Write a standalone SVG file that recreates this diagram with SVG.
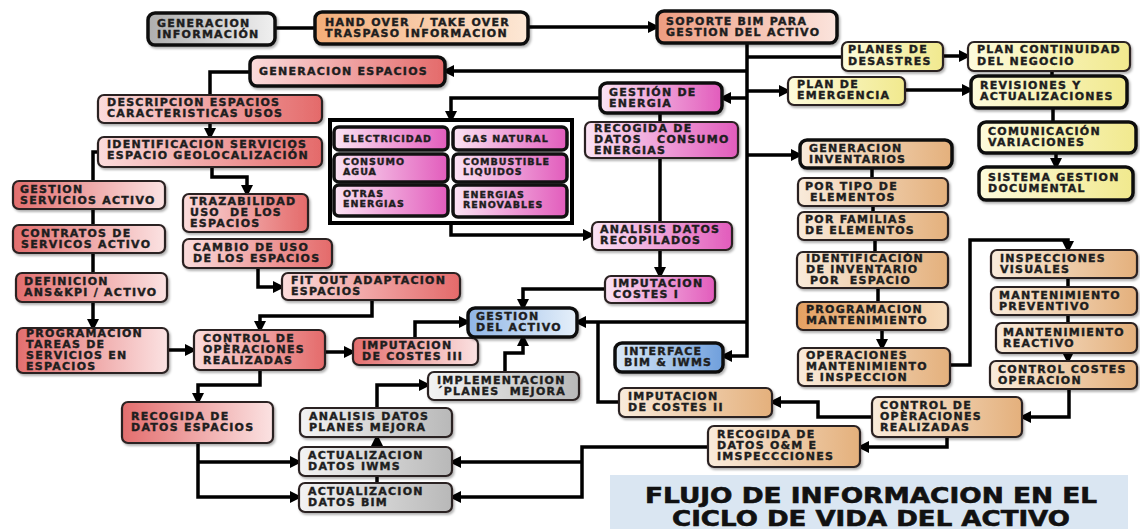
<svg xmlns="http://www.w3.org/2000/svg" width="1140" height="529" viewBox="0 0 1140 529">
<defs>
<style>
.t{font-family:"DejaVu Sans","Liberation Sans",sans-serif;font-weight:bold;font-size:11px;letter-spacing:1.25px;fill:#1e1e1e;stroke:#1e1e1e;stroke-width:0.4}
.s{font-size:9.5px;letter-spacing:1px}
.k{stroke:#111;stroke-width:3.5}
.n{stroke:#2b2020;stroke-width:2.2}
.c path{fill:none;stroke:#000;stroke-width:3.5}
.c path.a{marker-end:url(#ar)}
.box{filter:url(#sh)}
.ttl{font-family:"DejaVu Sans","Liberation Sans",sans-serif;font-weight:bold;font-size:22px;fill:#111;stroke:#111;stroke-width:0.6}
</style>
<marker id="ar" viewBox="0 0 12 12" markerWidth="12" markerHeight="12" refX="9" refY="6" orient="auto" markerUnits="userSpaceOnUse"><path d="M0,0 L12,6 L0,12 z" fill="#000"/></marker>
<filter id="sh" x="-10%" y="-20%" width="130%" height="150%"><feDropShadow dx="1.5" dy="2" stdDeviation="1.2" flood-color="#000" flood-opacity="0.3"/></filter>
<linearGradient id="grayL"><stop offset="0" stop-color="#aeaeae"/><stop offset="1" stop-color="#f0f0f0"/></linearGradient>
<linearGradient id="grayR"><stop offset="0" stop-color="#f3f3f3"/><stop offset="1" stop-color="#b8b8b8"/></linearGradient>
<linearGradient id="peach"><stop offset="0" stop-color="#f3ad78"/><stop offset="1" stop-color="#fde8d6"/></linearGradient>
<linearGradient id="sop"><stop offset="0" stop-color="#ee9c80"/><stop offset="1" stop-color="#fbe4dd"/></linearGradient>
<linearGradient id="redA"><stop offset="0" stop-color="#e36e6e"/><stop offset="1" stop-color="#fbe2e2"/></linearGradient>
<linearGradient id="redB"><stop offset="0" stop-color="#fbdcdc"/><stop offset="1" stop-color="#e46a6a"/></linearGradient>
<linearGradient id="mag"><stop offset="0" stop-color="#fbe4f4"/><stop offset="1" stop-color="#e25cbc"/></linearGradient>
<linearGradient id="yel"><stop offset="0" stop-color="#fdfbdc"/><stop offset="1" stop-color="#f1e98e"/></linearGradient>
<linearGradient id="tan"><stop offset="0" stop-color="#f9ebdb"/><stop offset="1" stop-color="#e4b07c"/></linearGradient>
<linearGradient id="tanO"><stop offset="0" stop-color="#e4a062"/><stop offset="1" stop-color="#f7dcbc"/></linearGradient>
<linearGradient id="blueA"><stop offset="0" stop-color="#8fb5e6"/><stop offset="1" stop-color="#e6f0fa"/></linearGradient>
<linearGradient id="blueB"><stop offset="0" stop-color="#dceaf8"/><stop offset="1" stop-color="#6f9fdc"/></linearGradient>
</defs>
<rect width="1140" height="529" fill="#fff"/>

<g id="connectors" class="c">
<path d="M275,28 H315"/>
<path class="a" d="M528,27 H657"/>
<path class="a" d="M747,43 V356 H723"/>
<path d="M747,57 H842"/>
<path class="a" d="M747,71 H445"/>
<path class="a" d="M747,98 H722"/>
<path class="a" d="M747,91 H788"/>
<path class="a" d="M747,155 H800"/>
<path class="a" d="M747,322 H577"/>
<path class="a" d="M943,56 H968"/>
<path class="a" d="M905,90 H971"/>
<path d="M1052,71 V76"/>
<path d="M1053,108 V122"/>
<path class="a" d="M1056,153 V167"/>
<path d="M250,72 H210 V95"/>
<path class="a" d="M210,123 V137"/>
<path d="M98,152 H93 V181"/>
<path class="a" d="M212,167 V177 H247 V194"/>
<path d="M93,209 V225"/>
<path d="M93,253 V273"/>
<path class="a" d="M93,302 V328"/>
<path class="a" d="M168,350 H194"/>
<path class="a" d="M258,268 V287 H282"/>
<path class="a" d="M372,300 V316 H260 V330"/>
<path class="a" d="M325,352 H353"/>
<path class="a" d="M415,338 V322 H468"/>
<path class="a" d="M260,370 V385 H198 V402"/>
<path class="a" d="M198,443 V497 H299"/>
<path class="a" d="M198,462 H299"/>
<path class="a" d="M377,447 V437"/>
<path d="M377,483 V476"/>
<path class="a" d="M377,408 V385 H428"/>
<path class="a" d="M505,372 V353 H523 V337"/>
<path class="a" d="M605,289 H523 V308"/>
<path class="a" d="M600,98 H451 V120"/>
<path d="M660,113 V122"/>
<path d="M660,158 V222"/>
<path class="a" d="M451,223 V235 H592"/>
<path class="a" d="M660,250 V276"/>
<path d="M619,402 H598 V322"/>
<path class="a" d="M872,417 H818 V402 H772"/>
<path class="a" d="M947,437 V447 H860"/>
<path class="a" d="M708,447 H582 V497 H452"/>
<path class="a" d="M582,462 H452"/>
<path d="M872,168 V178"/>
<path d="M873,206 V212"/>
<path d="M875,240 V252"/>
<path d="M878,288 V302"/>
<path class="a" d="M882,330 V348"/>
<path class="a" d="M950,365 H970 V240 H1068 V250"/>
<path d="M1068,278 V287"/>
<path d="M1068,315 V323"/>
<path class="a" d="M1068,353 V361"/>
<path class="a" d="M1069,389 V417 H1022"/>
</g>

<g id="n-gen-info"><rect class="box k" x="148" y="13" width="127" height="32" rx="7" fill="url(#grayL)"/><text class="t"><tspan x="157" y="27">GENERACION</tspan><tspan x="157" y="38">INFORMACIÓN</tspan></text></g>
<g id="n-handover"><rect class="box k" x="315" y="12" width="213" height="32" rx="7" fill="url(#peach)"/><text class="t"><tspan x="325" y="26">HAND OVER&#160; / TAKE OVER</tspan><tspan x="325" y="37">TRASPASO INFORMACION</tspan></text></g>
<g id="n-soporte"><rect class="box k" x="657" y="11" width="180" height="32" rx="7" fill="url(#sop)"/><text class="t"><tspan x="666" y="25">SOPORTE BIM PARA</tspan><tspan x="666" y="36">GESTION DEL ACTIVO</tspan></text></g>
<g id="n-planes-desastres"><rect class="box n" x="842" y="42" width="101" height="29" rx="6" fill="url(#yel)"/><text class="t"><tspan x="848" y="53">PLANES DE</tspan><tspan x="848" y="65">DESASTRES</tspan></text></g>
<g id="n-plan-continuidad"><rect class="box n" x="968" y="42" width="162" height="29" rx="6" fill="url(#yel)"/><text class="t"><tspan x="977" y="53">PLAN CONTINUIDAD</tspan><tspan x="977" y="65">DEL NEGOCIO</tspan></text></g>
<g id="n-plan-emergencia"><rect class="box n" x="788" y="77" width="117" height="28" rx="6" fill="url(#yel)"/><text class="t"><tspan x="797" y="88">PLAN DE</tspan><tspan x="797" y="99">EMERGENCIA</tspan></text></g>
<g id="n-revisiones"><rect class="box k" x="971" y="76" width="156" height="32" rx="7" fill="url(#yel)"/><text class="t"><tspan x="980" y="89">REVISIONES Y</tspan><tspan x="980" y="100">ACTUALIZACIONES</tspan></text></g>
<g id="n-comunicacion"><rect class="box k" x="979" y="122" width="157" height="31" rx="7" fill="url(#yel)"/><text class="t"><tspan x="988" y="135">COMUNICACIÓN</tspan><tspan x="988" y="146">VARIACIONES</tspan></text></g>
<g id="n-sistema"><rect class="box k" x="979" y="167" width="154" height="33" rx="7" fill="url(#yel)"/><text class="t"><tspan x="988" y="181">SISTEMA GESTION</tspan><tspan x="988" y="192">DOCUMENTAL</tspan></text></g>

<g id="n-gen-espacios"><rect class="box k" x="250" y="57" width="195" height="29" rx="7" fill="url(#redB)"/><text class="t" x="259" y="75">GENERACION ESPACIOS</text></g>
<g id="n-descripcion"><rect class="box n" x="98" y="95" width="224" height="28" rx="6" fill="url(#redB)"/><text class="t"><tspan x="107" y="106">DESCRIPCION ESPACIOS</tspan><tspan x="107" y="117">CARACTERISTICAS USOS</tspan></text></g>
<g id="n-identificacion"><rect class="box n" x="98" y="137" width="224" height="30" rx="6" fill="url(#redB)"/><text class="t"><tspan x="107" y="148">IDENTIFICACION SERVICIOS</tspan><tspan x="107" y="159">ESPACIO GEOLOCALIZACIÓN</tspan></text></g>
<g id="n-gestion-servicios"><rect class="box n" x="13" y="181" width="152" height="28" rx="6" fill="url(#redA)"/><text class="t"><tspan x="20" y="193">GESTION</tspan><tspan x="20" y="204">SERVICIOS ACTIVO</tspan></text></g>
<g id="n-contratos"><rect class="box n" x="13" y="225" width="152" height="28" rx="6" fill="url(#redA)"/><text class="t"><tspan x="21" y="237">CONTRATOS DE</tspan><tspan x="21" y="248">SERVICOS ACTIVO</tspan></text></g>
<g id="n-definicion"><rect class="box n" x="16" y="273" width="151" height="29" rx="6" fill="url(#redA)"/><text class="t"><tspan x="24" y="285">DEFINICION</tspan><tspan x="24" y="296">ANS&amp;KPI / ACTIVO</tspan></text></g>
<g id="n-programacion"><rect class="box n" x="17" y="328" width="151" height="45" rx="6" fill="url(#redA)"/><text class="t"><tspan x="26" y="337">PROGRAMACION</tspan><tspan x="26" y="348">TAREAS DE</tspan><tspan x="26" y="359">SERVICIOS EN</tspan><tspan x="26" y="370">ESPACIOS</tspan></text></g>
<g id="n-trazabilidad"><rect class="box n" x="183" y="194" width="125" height="38" rx="6" fill="url(#redB)"/><text class="t"><tspan x="190" y="205">TRAZABILIDAD</tspan><tspan x="190" y="216">USO&#160; DE LOS</tspan><tspan x="190" y="227">ESPACIOS</tspan></text></g>
<g id="n-cambio"><rect class="box n" x="183" y="239" width="149" height="29" rx="6" fill="url(#redB)"/><text class="t"><tspan x="193" y="251">CAMBIO DE USO</tspan><tspan x="193" y="262">DE LOS ESPACIOS</tspan></text></g>
<g id="n-fitout"><rect class="box n" x="282" y="273" width="178" height="27" rx="6" fill="url(#redB)"/><text class="t"><tspan x="291" y="284">FIT OUT ADAPTACION</tspan><tspan x="291" y="295">ESPACIOS</tspan></text></g>
<g id="n-control-l"><rect class="box n" x="194" y="330" width="131" height="40" rx="6" fill="url(#redB)"/><text class="t"><tspan x="203" y="342">CONTROL DE</tspan><tspan x="203" y="353">OPÈRACIONES</tspan><tspan x="203" y="364">REALIZADAS</tspan></text></g>
<g id="n-imputacion3"><rect class="box n" x="353" y="338" width="125" height="27" rx="6" fill="url(#redA)"/><text class="t"><tspan x="362" y="349">IMPUTACION</tspan><tspan x="362" y="360">DE COSTES III</tspan></text></g>
<g id="n-gestion-activo"><rect class="box k" x="468" y="308" width="109" height="29" rx="7" fill="url(#blueA)"/><text class="t"><tspan x="476" y="320">GESTION</tspan><tspan x="476" y="331">DEL ACTIVO</tspan></text></g>

<g id="n-gestion-energia"><rect class="box k" x="600" y="83" width="122" height="30" rx="7" fill="url(#mag)"/><text class="t"><tspan x="609" y="96">GESTIÓN DE</tspan><tspan x="609" y="107">ENERGIA</tspan></text></g>
<g id="n-recogida-consumo"><rect class="box n" x="585" y="122" width="153" height="36" rx="6" fill="url(#mag)"/><text class="t"><tspan x="594" y="132">RECOGIDA DE</tspan><tspan x="594" y="143">DATOS&#160;&#160; CONSUMO</tspan><tspan x="594" y="154">ENERGIAS</tspan></text></g>
<g id="n-energias">
<rect x="330" y="120" width="242" height="103" fill="#fff" stroke="#000" stroke-width="4"/>
<g id="n-electricidad"><rect class="k" x="334" y="127" width="114" height="23" rx="5" fill="url(#mag)" stroke-width="3"/><text class="t s" x="343" y="142">ELECTRICIDAD</text></g>
<g id="n-gas"><rect class="k" x="453" y="127" width="114" height="23" rx="5" fill="url(#mag)" stroke-width="3"/><text class="t s" x="463" y="142">GAS NATURAL</text></g>
<g id="n-agua"><rect class="k" x="334" y="154" width="114" height="28" rx="5" fill="url(#mag)" stroke-width="3"/><text class="t s"><tspan x="343" y="165">CONSUMO</tspan><tspan x="343" y="175">AGUA</tspan></text></g>
<g id="n-combustible"><rect class="k" x="453" y="154" width="114" height="28" rx="5" fill="url(#mag)" stroke-width="3"/><text class="t s"><tspan x="463" y="165">COMBUSTIBLE</tspan><tspan x="463" y="175">LIQUIDOS</tspan></text></g>
<g id="n-otras"><rect class="k" x="334" y="185" width="114" height="31" rx="5" fill="url(#mag)" stroke-width="3"/><text class="t s"><tspan x="343" y="197">OTRAS</tspan><tspan x="343" y="207">ENERGIAS</tspan></text></g>
<g id="n-renovables"><rect class="k" x="453" y="185" width="114" height="32" rx="5" fill="url(#mag)" stroke-width="3"/><text class="t s"><tspan x="463" y="198">ENERGIAS</tspan><tspan x="463" y="208">RENOVABLES</tspan></text></g>
</g>
<g id="n-analisis-datos"><rect class="box n" x="592" y="222" width="140" height="28" rx="6" fill="url(#mag)"/><text class="t"><tspan x="600" y="233">ANALISIS DATOS</tspan><tspan x="600" y="244">RECOPILADOS</tspan></text></g>
<g id="n-imputacion1"><rect class="box n" x="605" y="276" width="110" height="27" rx="6" fill="url(#mag)"/><text class="t"><tspan x="613" y="287">IMPUTACION</tspan><tspan x="613" y="298">COSTES I</tspan></text></g>
<g id="n-interface"><rect class="box k" x="615" y="343" width="108" height="29" rx="7" fill="url(#blueB)"/><text class="t"><tspan x="624" y="355">INTERFACE</tspan><tspan x="624" y="366">BIM &amp; IWMS</tspan></text></g>
<g id="n-imputacion2"><rect class="box n" x="619" y="388" width="153" height="29" rx="6" fill="url(#tan)"/><text class="t"><tspan x="628" y="400">IMPUTACION</tspan><tspan x="628" y="411">DE COSTES II</tspan></text></g>
<g id="n-recogida-om"><rect class="box n" x="708" y="426" width="152" height="41" rx="6" fill="url(#tan)"/><text class="t"><tspan x="717" y="438">RECOGIDA DE</tspan><tspan x="717" y="449">DATOS O&amp;M E</tspan><tspan x="717" y="460">IMSPECCCIONES</tspan></text></g>
<g id="n-control-r"><rect class="box n" x="872" y="397" width="150" height="40" rx="6" fill="url(#tan)"/><text class="t"><tspan x="880" y="409">CONTROL DE</tspan><tspan x="880" y="420">OPÈRACIONES</tspan><tspan x="880" y="431">REALIZADAS</tspan></text></g>

<g id="n-gen-inventarios"><rect class="box k" x="800" y="140" width="152" height="28" rx="7" fill="url(#tan)"/><text class="t"><tspan x="809" y="152">GENERACION</tspan><tspan x="809" y="163">INVENTARIOS</tspan></text></g>
<g id="n-por-tipo"><rect class="box n" x="798" y="178" width="150" height="28" rx="6" fill="url(#tan)"/><text class="t"><tspan x="805" y="190">POR TIPO DE</tspan><tspan x="810" y="201">ELEMENTOS</tspan></text></g>
<g id="n-por-familias"><rect class="box n" x="798" y="212" width="150" height="28" rx="6" fill="url(#tan)"/><text class="t"><tspan x="805" y="223">POR FAMILIAS</tspan><tspan x="805" y="234">DE ELEMENTOS</tspan></text></g>
<g id="n-ident-inv"><rect class="box n" x="797" y="252" width="151" height="36" rx="6" fill="url(#tan)"/><text class="t"><tspan x="806" y="262">IDENTIFICACIÓN</tspan><tspan x="806" y="273">DE INVENTARIO</tspan><tspan x="810" y="284">POR&#160; ESPACIO</tspan></text></g>
<g id="n-prog-mant"><rect class="box n" x="797" y="302" width="151" height="28" rx="6" fill="url(#tanO)"/><text class="t"><tspan x="806" y="313">PROGRAMACION</tspan><tspan x="806" y="324">MANTENIMIENTO</tspan></text></g>
<g id="n-operaciones"><rect class="box n" x="798" y="348" width="152" height="38" rx="6" fill="url(#tan)"/><text class="t"><tspan x="806" y="359">OPERACIONES</tspan><tspan x="806" y="370">MANTENIMIENTO</tspan><tspan x="806" y="381">E INSPECCION</tspan></text></g>
<g id="n-inspecciones"><rect class="box n" x="991" y="250" width="146" height="28" rx="6" fill="url(#tan)"/><text class="t"><tspan x="1000" y="262">INSPECCIONES</tspan><tspan x="1000" y="273">VISUALES</tspan></text></g>
<g id="n-preventivo"><rect class="box n" x="991" y="287" width="146" height="28" rx="6" fill="url(#tan)"/><text class="t"><tspan x="999" y="299">MANTENIMIENTO</tspan><tspan x="999" y="310">PREVENTIVO</tspan></text></g>
<g id="n-reactivo"><rect class="box n" x="996" y="323" width="141" height="30" rx="6" fill="url(#tan)"/><text class="t"><tspan x="1003" y="336">MANTENIMIENTO</tspan><tspan x="1003" y="347">REACTIVO</tspan></text></g>
<g id="n-control-costes"><rect class="box n" x="990" y="361" width="147" height="28" rx="6" fill="url(#tan)"/><text class="t"><tspan x="998" y="373">CONTROL COSTES</tspan><tspan x="998" y="384">OPERACION</tspan></text></g>

<g id="n-recogida-espacios"><rect class="box n" x="122" y="402" width="151" height="41" rx="6" fill="url(#redA)"/><text class="t"><tspan x="131" y="420">RECOGIDA DE</tspan><tspan x="131" y="431">DATOS ESPACIOS</tspan></text></g>
<g id="n-analisis-planes"><rect class="box n" x="300" y="408" width="152" height="29" rx="6" fill="url(#grayR)"/><text class="t"><tspan x="309" y="420">ANALISIS DATOS</tspan><tspan x="309" y="431">PLANES MEJORA</tspan></text></g>
<g id="n-implementacion"><rect class="box n" x="428" y="372" width="151" height="28" rx="6" fill="url(#grayR)"/><text class="t"><tspan x="437" y="384">IMPLEMENTACION</tspan><tspan x="437" y="395">´PLANES&#160; MEJORA</tspan></text></g>
<g id="n-act-iwms"><rect class="box n" x="299" y="447" width="153" height="29" rx="6" fill="url(#grayR)"/><text class="t"><tspan x="308" y="459">ACTUALIZACION</tspan><tspan x="308" y="470">DATOS IWMS</tspan></text></g>
<g id="n-act-bim"><rect class="box n" x="299" y="483" width="153" height="29" rx="6" fill="url(#grayR)"/><text class="t"><tspan x="308" y="495">ACTUALIZACION</tspan><tspan x="308" y="506">DATOS BIM</tspan></text></g>

<g id="title"><rect x="610" y="475" width="518" height="54" fill="#dae6f2"/><text class="ttl" text-anchor="middle"><tspan x="871" y="503" textLength="452" lengthAdjust="spacingAndGlyphs">FLUJO DE INFORMACION EN EL</tspan><tspan x="871" y="526" textLength="398" lengthAdjust="spacingAndGlyphs">CICLO DE VIDA DEL ACTIVO</tspan></text></g>
</svg>
